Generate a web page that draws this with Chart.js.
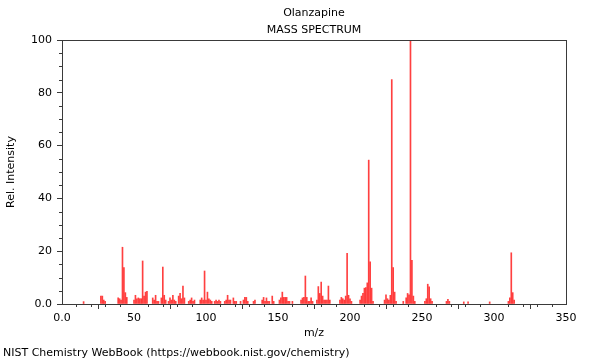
<!DOCTYPE html>
<html>
<head>
<meta charset="utf-8">
<script src="https://cdn.jsdelivr.net/npm/chart.js@4/dist/chart.umd.min.js"></script>
<style>
  html, body { margin: 0; padding: 0; background: #fff; }
  #wrap { width: 600px; height: 360px; position: relative; }
</style>
</head>
<body>
<div id="wrap"><canvas id="c" width="600" height="360"></canvas></div>
<script>
const chartTitle = "Olanzapine";
const chartSubtitle = "MASS SPECTRUM";
const xTitle = "m/z";
const yTitle = "Rel. Intensity";
const footer = "NIST Chemistry WebBook (https://webbook.nist.gov/chemistry)";

const mz = [
  15, 27, 28, 29, 30, 39, 40, 41, 42, 43, 44, 45,
  50, 51, 52, 53, 54, 55, 56, 57, 58, 59,
  63, 64, 65, 66, 67, 69, 70, 71, 72, 74, 75, 76, 77, 78, 79,
  81, 82, 83, 84, 85, 88, 89, 90, 91, 92, 96, 97, 98, 99, 100, 101, 102, 103, 104,
  106, 107, 108, 109, 110, 113, 114, 115, 116, 117, 119, 120, 121, 124, 126, 127, 128, 129,
  133, 134, 139, 140, 141, 142, 143, 144, 146, 147, 151, 152, 153, 154, 155, 156, 157, 158, 160,
  166, 167, 168, 169, 170, 171, 172, 173, 174, 177, 178, 179, 180, 181, 182, 183, 184, 185, 186,
  193, 194, 195, 196, 197, 198, 199, 200, 201, 207, 208, 209, 210, 211, 212, 213, 214, 215, 216,
  224, 225, 226, 227, 228, 229, 230, 231, 232, 237, 239, 240, 241, 242, 243, 244, 245,
  252, 253, 254, 255, 256, 257, 267, 268, 269, 279, 282, 297, 310, 311, 312, 313, 314
];
const intensity = [
  0.9, 3, 3, 1.5, 1, 2.3, 2, 1.5, 21.5, 13.8, 4.3, 2.5,
  1.5, 3.3, 2, 2.3, 2, 2, 16.3, 3, 4.5, 4.8,
  2.3, 1.5, 3.3, 1, 1, 2.3, 14, 3.3, 1.5, 1, 2.3, 1.5, 3.3, 1.5, 1,
  3, 4, 2, 6.8, 2.3, 1, 1.5, 2.3, 1, 1.5, 1.5, 2.3, 1.5, 12.5, 1.5, 4.5, 2, 1.5, 1,
  1, 1.5, 1, 1.5, 1, 1, 1.5, 3.3, 1.5, 1.5, 2.3, 1, 1, 1, 1.5, 2.5, 2.5, 1,
  1, 1.5, 1.5, 2.5, 1, 2.3, 1, 1, 3, 1, 1.5, 2.3, 4.5, 2.5, 2.5, 2.5, 1, 1, 1,
  1.5, 2.3, 2.5, 10.6, 2.5, 1, 1, 2.3, 1, 1.5, 6.6, 4, 8.3, 3, 1.5, 1.5, 1.5, 6.8, 1.5,
  1.5, 2.5, 2, 1.5, 3, 19.2, 3.3, 2, 1, 1.5, 3, 4, 6, 6.2, 8, 54.5, 16, 6, 1,
  1.5, 3.5, 2, 1.5, 3.3, 85, 13.8, 4.5, 1, 1, 2.3, 4, 3.5, 100, 16.5, 3, 1,
  1, 2, 7.5, 6.5, 2, 1, 1, 1.8, 1, 0.8, 0.8, 0.8, 1, 2.3, 19.4, 4.3, 1.5
];
const xTicks = [0, 50, 100, 150, 200, 250, 300, 350];
const yTicks = [0, 20, 40, 60, 80, 100];

const FONT = "DejaVu Sans";
const FS = 11;
const AXIS_COLOR = "#3a3a3a";

const points = mz.map((m, i) => ({ x: m, y: intensity[i] }));
const fmt = v => (v === 0 ? "0.0" : String(v));

const decor = {
  id: "decor",
  afterDraw(chart) {
    const ctx = chart.ctx;
    const a = chart.chartArea;
    const xs = chart.scales.x, ys = chart.scales.y;
    ctx.save();
    ctx.strokeStyle = AXIS_COLOR;
    ctx.lineWidth = 1;
    ctx.strokeRect(Math.round(a.left) + 0.5, Math.round(a.top) + 0.5,
                   Math.round(a.right - a.left), Math.round(a.bottom - a.top));
    ctx.beginPath();
    for (let v = 0; v <= 350; v += 10) {
      if (v % 50 === 0) continue;
      const px = Math.round(xs.getPixelForValue(v)) + 0.5;
      ctx.moveTo(px, a.bottom); ctx.lineTo(px, a.bottom + 3);
    }
    for (let v = 0; v <= 100; v += 5) {
      if (v % 20 === 0) continue;
      const py = Math.round(ys.getPixelForValue(v)) + 0.5;
      ctx.moveTo(a.left, py); ctx.lineTo(a.left - 3, py);
    }
    ctx.stroke();
    ctx.fillStyle = "#000";
    ctx.font = FS + "px '" + FONT + "'";
    ctx.textAlign = "center";
    ctx.textBaseline = "middle";
    const cx = (a.left + a.right) / 2;
    ctx.fillText(chartTitle, cx, 13);
    ctx.fillText(chartSubtitle, cx, 30);
    ctx.fillText(xTitle, cx, 333);
    ctx.save();
    ctx.translate(11, (a.top + a.bottom) / 2);
    ctx.rotate(-Math.PI / 2);
    ctx.fillText(yTitle, 0, 0);
    ctx.restore();
    ctx.textAlign = "left";
    ctx.fillText(footer, 3, 353);
    ctx.restore();
  }
};

new Chart(document.getElementById("c"), {
  type: "bar",
  data: {
    datasets: [{
      data: points,
      backgroundColor: "rgba(255,30,30,0.85)",
      borderWidth: 0,
      barThickness: 1,
      grouped: false
    }]
  },
  options: {
    responsive: false,
    animation: false,
    events: [],
    layout: { padding: { top: 40, right: 34, left: 0, bottom: 0 } },
    plugins: { legend: { display: false }, tooltip: { enabled: false }, title: { display: false } },
    scales: {
      x: {
        type: "linear",
        min: 0, max: 350,
        offset: false,
        afterFit(s) { s.height = 56; },
        afterBuildTicks(s) { s.ticks = xTicks.map(v => ({ value: v })); },
        grid: { display: true, drawOnChartArea: false, tickLength: 5, color: AXIS_COLOR },
        border: { display: true, color: AXIS_COLOR },
        ticks: { color: "#000", font: { family: FONT, size: FS }, padding: 3, maxRotation: 0, callback: fmt }
      },
      y: {
        type: "linear",
        min: 0, max: 100,
        afterFit(s) { s.width = 62; },
        afterBuildTicks(s) { s.ticks = yTicks.map(v => ({ value: v })); },
        grid: { display: true, drawOnChartArea: false, tickLength: 5, color: AXIS_COLOR },
        border: { display: true, color: AXIS_COLOR },
        ticks: { color: "#000", font: { family: FONT, size: FS }, padding: 5, callback: fmt }
      }
    }
  },
  plugins: [decor]
});
</script>
</body>
</html>
